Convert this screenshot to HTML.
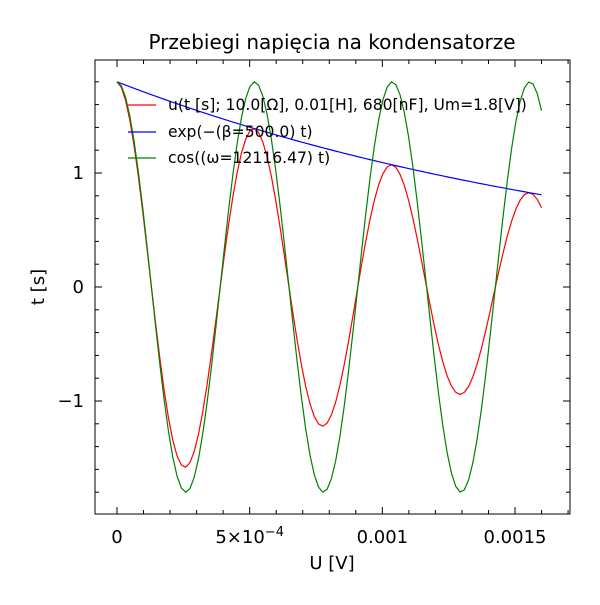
<!DOCTYPE html>
<html><head><meta charset="utf-8"><style>
body{margin:0;background:#fff}
svg text{font-family:"DejaVu Sans","Liberation Sans",sans-serif;fill:#000}
</style></head><body>
<svg id="chart" width="600" height="600" xmlns="http://www.w3.org/2000/svg">
<rect width="600" height="600" fill="#fff"/>
<text x="332" y="49" font-size="20" text-anchor="middle">Przebiegi napięcia na kondensatorze</text>
<g id="marks"></g>
<rect x="95" y="60" width="475" height="454" fill="none" stroke="#000" stroke-width="1"/>
<g id="ticks"></g>
<text x="332" y="569" font-size="18" text-anchor="middle">U [V]</text>
<text transform="translate(44,287) rotate(-90)" font-size="18" text-anchor="middle">t [s]</text>
<g font-size="15.6">
<line x1="128" y1="105" x2="156" y2="105" stroke="red" stroke-width="1.2"/>
<text x="168" y="110">u(t [s]; 10.0[Ω], 0.01[H], 680[nF], Um=1.8[V])</text>
<line x1="128" y1="132" x2="156" y2="132" stroke="blue" stroke-width="1.2"/>
<text x="168" y="137">exp(−(β=500.0) t)</text>
<line x1="128" y1="158" x2="156" y2="158" stroke="green" stroke-width="1.2"/>
<text x="168" y="163">cos((ω=12116.47) t)</text>
</g>
</svg>
<script>
const Um=[1.8];
const beta=[500.0];
const omega=[12116.47];
const tRange=[0,0.0016];
const nSamples=[100];
const xTicks=[0,0.0005,0.001,0.0015];
const xTickLabels=["0","5×10","0.001","0.0015"];
const xTickExps=["","−4","",""];
const yTicks=[-1,0,1];
const yTickLabels=["−1","0","1"];
const NS="http://www.w3.org/2000/svg";
const sx=v=>117+v/0.0015*398;
const sy=v=>287-v*114;
const marks=document.getElementById('marks');
const ticks=document.getElementById('ticks');
const ts=[];for(let i=0;i<nSamples[0];i++)ts.push(tRange[0]+(tRange[1]-tRange[0])*i/(nSamples[0]-1));
const env=ts.map(t=>Um[0]*Math.exp(-beta[0]*t));
const osc=ts.map(t=>Um[0]*Math.cos(omega[0]*t));
const uu=ts.map((t,i)=>env[i]*Math.cos(omega[0]*t));
function line(vals,color,name){
 const p=document.createElementNS(NS,'polyline');
 p.setAttribute('points',vals.map((v,i)=>sx(ts[i]).toFixed(2)+','+sy(v).toFixed(2)).join(' '));
 p.setAttribute('fill','none');p.setAttribute('stroke',color);p.setAttribute('stroke-width','1.2');
 
 
 marks.appendChild(p);
}
line(uu,'red','series-u');
line(env,'blue','series-exp');
line(osc,'green','series-cos');
function tk(x1,y1,x2,y2){const l=document.createElementNS(NS,'line');l.setAttribute('x1',x1);l.setAttribute('y1',y1);l.setAttribute('x2',x2);l.setAttribute('y2',y2);l.setAttribute('stroke','#000');


ticks.appendChild(l);}
function txt(x,y,s,anchor,name,exp){const t=document.createElementNS(NS,'text');t.setAttribute('x',x);t.setAttribute('y',y);t.setAttribute('font-size','18');t.setAttribute('text-anchor',anchor);t.textContent=s;
if(exp){const sp=document.createElementNS(NS,'tspan');sp.setAttribute('dy','-7');sp.setAttribute('font-size','13');sp.textContent=exp;t.appendChild(sp);}


ticks.appendChild(t);}
for(let k=-1;k<=17;k++){const v=k*0.0001;const x=sx(v);if(x<95||x>570)continue;const L=(k%5===0)?7:4;tk(x,514,x,514-L);tk(x,60,x,60+L);}
xTicks.forEach((v,i)=>txt(sx(v),543,xTickLabels[i],'middle','x-tick-label',xTickExps[i]));
for(let k=-10;k<=10;k++){const v=k*0.2;const y=sy(v);if(y<60||y>514)continue;const L=(k%5===0)?7:4;tk(95,y,95+L,y);tk(570,y,570-L,y);}
yTicks.forEach((v,i)=>txt(84,sy(v)+6,yTickLabels[i],'end','y-tick-label'));
</script>
</body></html>
